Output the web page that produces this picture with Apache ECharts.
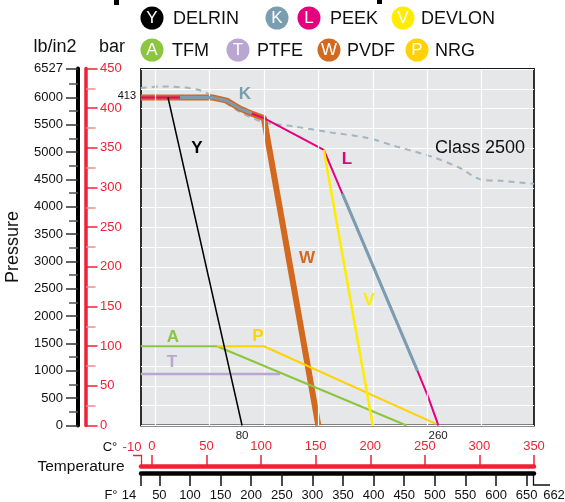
<!DOCTYPE html>
<html><head><meta charset="utf-8">
<script src="https://cdn.jsdelivr.net/npm/echarts@6/dist/echarts.min.js"></script>
<style>html,body{margin:0;padding:0;background:#fff}#c{width:565px;height:502px}</style>
</head><body><div id="c"></div>
<script>
const FONT = '"Liberation Sans", Arial, Helvetica, sans-serif';

// ---- data: [temperature °C, pressure bar] ----
const delrinY  = [[12,414],[80,0]];
const peekK1   = [[23,414],[53,414],[66,410],[78,400],[89,394]];
const peekK2   = [[172,293],[241,69]];
const peekL    = [[-13,414],[53,414],[66,410],[78,400],[90,393],[100,388],[155,348],[241,69],[250,39],[259,5],[260,0]];
const devlonV  = [[155,348],[200,0]];
const tfmA     = [[-13,100],[57,100],[231,0]];
const ptfeT    = [[-13,65],[115,65]];
const pvdfW    = [[-13,414],[53,414],[66,410],[78,400],[90,393],[100,388],[150,0]];
const nrgP     = [[57,100],[100,100],[258,2]];
const class2500 = [[-13,426],[5,428],[39,424],[60,411],[78,396],[99,383],[130,377],[161,370],[195,363],[222,352],[255,339],[280,325],[298,311],[317,309],[348,305]];

// ---- tick values ----
const celsiusTicks = [0,50,100,150,200,250,300,350];
const fahrTicks    = [50,100,150,200,250,300,350,400,450,500,550,600,650];
const psiMajor     = [0,500,1000,1500,2000,2500,3000,3500,4000,4500,5000,5500,6000,6527];
const psiMinor     = [250,750,1250,1750,2250,2750,3250,3750,4250,4750,5250,5750,6250];
const gridTemps    = [0,50,100,150,200,250,300];
const markedTemps  = [80,260];

const RED = '#ee2233';

function line(name, data, color, width, z, extra) {
  return Object.assign({
    type:'line', name, data, xAxisIndex:0, yAxisIndex:0,
    symbol:'none', showSymbol:false, animation:false, silent:true, z,
    lineStyle:{color, width, cap:'butt', join:'round'}
  }, extra || {});
}
function txt(text, x, y, fill, font, align, extra) {
  return Object.assign({
    type:'text', x, y, silent:true,
    style:{text, fill, font, align: align||'center', verticalAlign:'middle'}
  }, extra || {});
}

const legendItems = [
  {c:'#000000', l:'Y', x:152, y:18}, {c:'#7b9db0', l:'K', x:277, y:18},
  {c:'#e4007f', l:'L', x:309, y:18}, {c:'#ffec00', l:'V', x:403, y:18},
  {c:'#8cc63f', l:'A', x:152, y:50}, {c:'#b9a6d1', l:'T', x:238, y:50},
  {c:'#d2691f', l:'W', x:329, y:50}, {c:'#ffd200', l:'P', x:417, y:50}
];
const legendTexts = [
  {t:'DELRIN', x:173, y:18}, {t:'PEEK', x:330, y:18}, {t:'DEVLON', x:421, y:18},
  {t:'TFM', x:172, y:50}, {t:'PTFE', x:257, y:50}, {t:'PVDF', x:347, y:50}, {t:'NRG', x:435, y:50}
];

const graphics = [];
graphics.push({type:'rect', shape:{x:114,y:0,width:5,height:5}, style:{fill:'#000'}, silent:true});
graphics.push({type:'rect', shape:{x:377,y:0,width:5,height:4}, style:{fill:'#000'}, silent:true});
legendItems.forEach(it => {
  graphics.push({type:'circle', shape:{cx:it.x, cy:it.y, r:11.5}, style:{fill:it.c}, silent:true});
  graphics.push(txt(it.l, it.x, it.y+0.5, '#fff', '17px '+FONT));
});
legendTexts.forEach(it => graphics.push(txt(it.t, it.x, it.y+1, '#111', '18px '+FONT, 'left')));

graphics.push(txt('lb/in2', 55, 47, '#111', '18px '+FONT));
graphics.push(txt('bar', 112, 47, '#111', '18px '+FONT));
graphics.push(txt('Pressure', 13, 247, '#111', '18px '+FONT, 'center', {rotation: Math.PI/2}));
graphics.push(txt('413', 136, 96, '#111', '11px '+FONT, 'right'));
graphics.push(txt('Class 2500', 480, 148, '#111', '18px '+FONT, 'center', {z:100}));
graphics.push(txt('Y', 197, 148, '#000', 'bold 17px '+FONT, 'center', {z:100}));
graphics.push(txt('K', 245, 94, '#7b9db0', 'bold 17px '+FONT, 'center', {z:100}));
graphics.push(txt('L', 347, 159, '#e4007f', 'bold 17px '+FONT, 'center', {z:100}));
graphics.push(txt('W', 307, 258, '#d2691f', 'bold 17px '+FONT, 'center', {z:100}));
graphics.push(txt('V', 369, 300, '#ffec00', 'bold 17px '+FONT, 'center', {z:100}));
graphics.push(txt('A', 173, 337, '#8cc63f', 'bold 17px '+FONT, 'center', {z:100}));
graphics.push(txt('P', 258, 336, '#ffd200', 'bold 17px '+FONT, 'center', {z:100}));
graphics.push(txt('T', 172, 362, '#b9a6d1', 'bold 17px '+FONT, 'center', {z:100}));
graphics.push(txt('Temperature', 81, 467, '#111', '15.5px '+FONT));
graphics.push(txt('C°', 110, 447, '#111', '13px '+FONT));
graphics.push(txt('-10', 132, 447, RED, '13px '+FONT));
graphics.push({type:'polyline', shape:{points:[[133,455.5],[141.5,455.5],[141.5,465]]}, style:{stroke:RED, lineWidth:1.3, fill:null}, silent:true});
graphics.push(txt('F°', 111, 495, '#111', '13px '+FONT));
graphics.push(txt('14', 129, 495, '#111', '13px '+FONT));
graphics.push({type:'polyline', shape:{points:[[533.5,475],[533.5,485],[550,485]]}, style:{stroke:'#111', lineWidth:1.3, fill:null}, silent:true});
graphics.push(txt('662', 554, 495, '#111', '13px '+FONT));

const noLine = {show:false, onZero:false};
const chart = echarts.init(document.getElementById('c'), null, {renderer:'canvas'});
chart.setOption({
  animation:false,
  backgroundColor:'#ffffff',
  textStyle:{fontFamily:FONT},
  grid:[
    {left:141, right:31, top:69, height:356.5, show:true, backgroundColor:'#e6e7e8', borderColor:'#1a1a1a', borderWidth:1.8},
    {left:78, width:8, top:68.5, height:357},
    {left:141, right:31, top:466, height:7}
  ],
  xAxis:[
    {gridIndex:0, type:'value', min:-12.8, max:348,
     axisLine:noLine, axisTick:{show:false}, splitLine:{show:false},
     axisLabel:{show:true, customValues:markedTemps, fontSize:11.5, color:'#222', margin:4, fontFamily:FONT}},
    {gridIndex:1, type:'value', min:0, max:1,
     axisLine:noLine, axisTick:{show:false}, axisLabel:{show:false}, splitLine:{show:false}},
    {gridIndex:2, type:'value', position:'top', min:-10, max:350,
     axisLine:{show:true, onZero:false, lineStyle:{color:RED, width:4.5}},
     axisTick:{show:true, customValues:celsiusTicks, length:11, lineStyle:{color:RED, width:1.5}},
     axisLabel:{show:true, customValues:celsiusTicks, color:RED, fontSize:13, margin:13, fontFamily:FONT},
     splitLine:{show:false}},
    {gridIndex:2, type:'value', position:'bottom', min:20, max:662,
     axisLine:{show:true, onZero:false, lineStyle:{color:'#000', width:4.5}},
     axisTick:{show:true, customValues:[20].concat(fahrTicks), length:13, lineStyle:{color:'#111', width:1.5}},
     axisLabel:{show:true, customValues:fahrTicks, color:'#111', fontSize:13, margin:16, fontFamily:FONT},
     splitLine:{show:false}}
  ],
  yAxis:[
    {gridIndex:0, type:'value', min:0, max:450, interval:25,
     axisLine:noLine, axisTick:{show:false}, axisLabel:{show:false},
     splitLine:{show:true, lineStyle:{color:'#ffffff', width:1.2}}},
    {gridIndex:1, type:'value', position:'left', min:0, max:6527,
     axisLine:{show:true, onZero:false, lineStyle:{color:'#000', width:4}},
     axisTick:{show:true, customValues:psiMajor, length:12, lineStyle:{color:'#333', width:1.5}},
     axisLabel:{show:true, customValues:psiMajor, formatter: v => String(v), color:'#111', fontSize:13, margin:15, fontFamily:FONT},
     splitLine:{show:false}},
    {gridIndex:1, type:'value', position:'left', min:0, max:6527,
     axisLine:noLine,
     axisTick:{show:true, customValues:psiMinor, length:9, lineStyle:{color:'#555', width:1.5}},
     axisLabel:{show:false}, splitLine:{show:false}},
    {gridIndex:1, type:'value', position:'right', min:0, max:450, interval:50,
     axisLine:{show:true, onZero:false, lineStyle:{color:RED, width:3.5}},
     axisTick:{show:true, length:11.5, lineStyle:{color:RED, width:1.5}},
     minorTick:{show:true, splitNumber:2, length:9.5, lineStyle:{color:'#f28a93', width:1.5}},
     axisLabel:{show:true, color:RED, fontSize:13, margin:14, fontFamily:FONT},
     splitLine:{show:false}, minorSplitLine:{show:false}},
    {gridIndex:2, type:'value', min:0, max:1,
     axisLine:noLine, axisTick:{show:false}, axisLabel:{show:false}, splitLine:{show:false}}
  ],
  series:[
    {type:'line', name:'gridlines', data:class2500, xAxisIndex:0, yAxisIndex:0, z:1, silent:true, animation:false,
     symbol:'none', lineStyle:{opacity:0},
     markLine:{silent:true, animation:false, symbol:['none','none'], label:{show:false},
       lineStyle:{color:'#ffffff', width:1.2, type:'solid'},
       data: gridTemps.map(v => ({xAxis:v}))}},
    line('Class 2500', class2500, '#a3b5c0', 2, 2, {smooth:0.3, lineStyle:{color:'#a3b5c0', width:2, type:[6,5]}}),
    line('PVDF', pvdfW, '#d2691f', 6, 3),
    line('PEEK L', peekL, '#e4007f', 2, 4),
    line('PEEK K', peekK1, '#7b9db0', 3, 5),
    line('PEEK K2', peekK2, '#7b9db0', 3, 5),
    line('PTFE', ptfeT, '#b9a6d1', 2.5, 6),
    line('TFM', tfmA, '#8cc63f', 2, 7),
    line('NRG', nrgP, '#ffd200', 2, 7),
    line('DEVLON', devlonV, '#ffec00', 2.5, 8),
    line('DELRIN', delrinY, '#000000', 1.5, 9)
  ],
  graphic: graphics
});
</script></body></html>
